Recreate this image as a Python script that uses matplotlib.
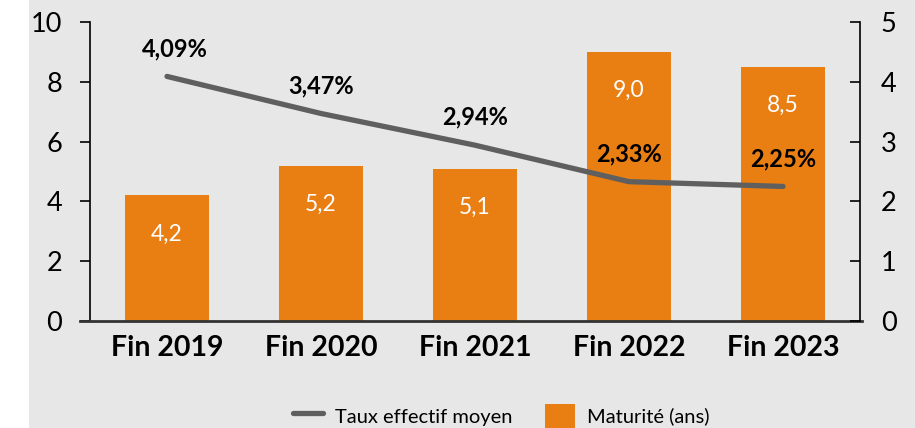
import matplotlib
matplotlib.use("Agg")
import matplotlib.pyplot as plt
from matplotlib.lines import Line2D
from matplotlib.patches import Rectangle

categories = ["Fin 2019", "Fin 2020", "Fin 2021", "Fin 2022", "Fin 2023"]
maturite = [4.2, 5.2, 5.1, 9.0, 8.5]
taux = [4.09, 3.47, 2.94, 2.33, 2.25]
maturite_labels = ["4,2", "5,2", "5,1", "9,0", "8,5"]
taux_labels = ["4,09%", "3,47%", "2,94%", "2,33%", "2,25%"]

ORANGE = "#E97E13"
LINE_GRAY = "#5F5F5F"
BG = "#E7E7E7"

plt.rcParams["font.family"] = ["Lato", "DejaVu Sans"]

fig = plt.figure(figsize=(9.15, 4.28), dpi=100)
fig.patch.set_facecolor("white")
fig.patches.append(Rectangle((29 / 915, 0), 1, 1, transform=fig.transFigure,
                             facecolor=BG, edgecolor="none", zorder=-10))

ax = fig.add_axes([90 / 915, 1 - 321 / 428, 770 / 915, 299 / 428])
ax.set_facecolor("none")
ax2 = ax.twinx()

x = list(range(len(categories)))
ax.bar(x, maturite, width=0.55, color=ORANGE, zorder=2)
for xi, v, lab in zip(x, maturite, maturite_labels):
    ax.annotate(lab, (xi, v), xytext=(0, -28), textcoords="offset points",
                ha="center", va="center", color="white", fontsize=16.5)

ax2.plot(x, taux, color=LINE_GRAY, linewidth=3.8, solid_capstyle="round", zorder=3)
for i, (xi, v, lab) in enumerate(zip(x, taux, taux_labels)):
    dx = 6 if i == 0 else 0
    ax2.annotate(lab, (xi, v), xytext=(dx, 20), textcoords="offset points",
                 ha="center", va="center", color="black", fontsize=17,
                 fontweight="bold")

ax.set_xlim(-0.5, len(categories) - 0.5)
ax.set_ylim(0, 10)
ax.set_yticks([0, 2, 4, 6, 8, 10])
ax2.set_ylim(0, 5)
ax2.set_yticks([0, 1, 2, 3, 4, 5])

ax.set_xticks(x)
ax.set_xticklabels(categories, fontsize=20.5, fontweight="bold")
ax.tick_params(axis="x", length=0, pad=10)
ax.tick_params(axis="y", direction="out", length=7, width=1.2, labelsize=19.5, pad=13)
ax2.tick_params(axis="y", direction="in", length=7, width=1.2, labelsize=19.5, pad=15)

for a in (ax, ax2):
    a.spines["top"].set_visible(False)
    a.spines["bottom"].set_visible(False)
ax.spines["right"].set_visible(False)
ax2.spines["left"].set_visible(False)
ax.spines["left"].set_linewidth(1.2)
ax2.spines["right"].set_linewidth(1.2)

ax.add_line(Line2D([-0.013, 1.003], [0, 0], transform=ax.transAxes, color="#333333",
                   linewidth=2, clip_on=False, zorder=5))

handles = [Line2D([], [], color=LINE_GRAY, linewidth=3.8, solid_capstyle="round"),
           Rectangle((0, 0), 1, 1, facecolor=ORANGE)]
fig.legend(handles, ["Taux effectif moyen", "Maturité (ans)"], loc="center",
           bbox_to_anchor=(0.548, 1 - 416 / 428), ncol=2, frameon=False,
           fontsize=14.5, handlelength=1.5, handleheight=1.5, columnspacing=1.6,
           handletextpad=0.6)

fig.savefig("out.png", dpi=100)
